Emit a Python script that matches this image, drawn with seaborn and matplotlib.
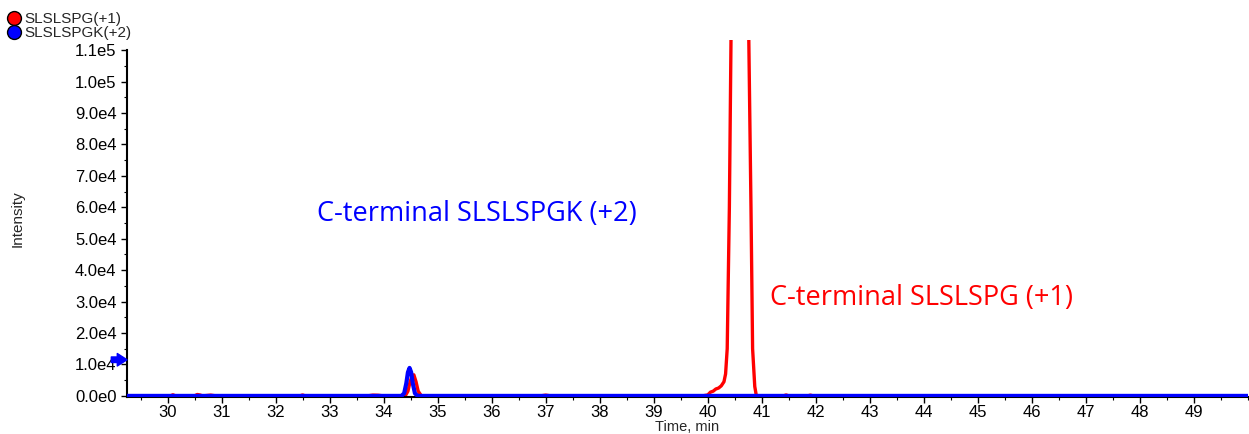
import numpy as np
import pandas as pd
import matplotlib
matplotlib.use("Agg")
import matplotlib.pyplot as plt
from matplotlib.lines import Line2D
from matplotlib.ticker import MultipleLocator, FixedLocator
import matplotlib.transforms as mtransforms
import seaborn as sns

# ---- data ----
red_time = [29.25, 30.05, 30.1, 30.15, 30.5, 30.55, 30.6, 30.65, 30.8, 30.9, 31.0,
            32.45, 32.5, 32.55, 33.7, 33.8, 33.9, 34.0, 34.4, 34.45, 34.49, 34.53, 34.56,
            34.6, 34.64, 34.7, 36.9, 37.0, 37.1, 39.9, 40.0, 40.05, 40.1, 40.15, 40.2,
            40.25, 40.3, 40.33, 40.36, 40.40, 40.43, 40.5, 40.6, 40.7, 40.76, 40.80,
            40.83, 40.87, 40.9, 41.4, 41.45, 41.5, 41.85, 41.9, 41.95, 50.0]
red_int = [0, 0, 350, 0, 0, 450, 300, 0, 250, 0, 0,
           0, 300, 0, 0, 250, 200, 0, 0, 1500, 4500, 6500, 6700,
           4500, 1500, 0, 0, 250, 0, 0, 300, 1200, 1500, 2200, 2500,
           3200, 4500, 7000, 15000, 60000, 113000, 250000, 300000, 200000, 113000, 60000,
           15000, 3000, 0, 0, 300, 0, 0, 250, 0, 0]

blue_time = [29.25, 34.33, 34.38, 34.42, 34.45, 34.48, 34.51, 34.54, 34.58, 34.63, 50.0]
blue_int = [0, 0, 800, 4000, 7500, 8900, 7500, 4000, 800, 0, 0]

series_names = ["SLSLSPG(+1)", "SLSLSPGK(+2)"]
series_colors = ["#ff0000", "#0000ff"]
x_ticks = list(range(30, 50))
y_ticks = [i * 1e4 for i in range(12)]
y_tick_labels = ["0.0e0"] + [f"{i}.0e4" for i in range(1, 10)] + ["1.0e5", "1.1e5"]
annot_blue = "C-terminal SLSLSPGK (+2)"
annot_red = "C-terminal SLSLSPG (+1)"

# ---- plot ----
sns.set_style("white")
plt.rcParams["font.family"] = ["Liberation Sans", "DejaVu Sans"]

fig = plt.figure(figsize=(12.49, 4.34), dpi=100)
ax = fig.add_axes([127 / 1249, 37 / 434, 1121 / 1249, 357 / 434])

df_red = pd.DataFrame({"time": red_time, "intensity": red_int})
df_blue = pd.DataFrame({"time": blue_time, "intensity": blue_int})
sns.lineplot(data=df_red, x="time", y="intensity", color=series_colors[0], lw=2.4,
             estimator=None, ax=ax, zorder=2)
sns.lineplot(data=df_blue, x="time", y="intensity", color=series_colors[1], lw=3.0,
             estimator=None, ax=ax, zorder=3)

ax.set_xlim(29.25, 50.0)
ax.set_ylim(-350, 1.132e5)

for s in ["top", "right"]:
    ax.spines[s].set_visible(False)
for s in ["left", "bottom"]:
    ax.spines[s].set_color("black")
    ax.spines[s].set_linewidth(1.5)
ax.spines["left"].set_bounds(-350, 1.1e5)

ax.xaxis.set_major_locator(FixedLocator(x_ticks))
ax.xaxis.set_minor_locator(MultipleLocator(0.5))
ax.yaxis.set_major_locator(FixedLocator(y_ticks))
ax.yaxis.set_minor_locator(FixedLocator([v + 5e3 for v in y_ticks[:-1]]))
ax.set_yticklabels(y_tick_labels)
ax.tick_params(axis="both", which="major", direction="out", length=4, width=1,
               color="black", labelsize=12, labelcolor="black", left=True, bottom=True)
ax.tick_params(axis="x", which="major", pad=2)
ax.tick_params(axis="both", which="minor", direction="out", length=2, width=0.8,
               color="black", left=True, bottom=True)

ax.set_xlabel("Time, min", fontsize=10.5, labelpad=0)
ax.set_ylabel("Intensity", fontsize=11, labelpad=36)

# annotations
ax.text(35.72, 5.79e4, annot_blue, color="blue", fontsize=19.5,
        family=["Open Sans", "DejaVu Sans"], ha="center", va="center")
ax.text(43.96, 3.12e4, annot_red, color="red", fontsize=19.5,
        family=["Open Sans", "DejaVu Sans"], ha="center", va="center")

# blue arrow marker on y-axis
trans = mtransforms.blended_transform_factory(ax.transAxes, ax.transData)
ax.annotate("", xy=(0.0, 1.15e4), xytext=(-0.014, 1.15e4), xycoords=trans, textcoords=trans,
            arrowprops=dict(arrowstyle="simple,head_width=0.9,head_length=0.7,tail_width=0.4",
                            color="blue", shrinkA=0, shrinkB=0), annotation_clip=False)

# legend
handles = [Line2D([], [], ls="none", marker="o", markersize=10, markerfacecolor=c,
                  markeredgecolor="black", markeredgewidth=1.0) for c in series_colors]
fig.legend(handles, series_names, loc="upper left", bbox_to_anchor=(-0.003, 0.993),
           frameon=False, fontsize=11, handletextpad=0.15, labelspacing=0.0,
           handlelength=1.1, borderaxespad=0.2)

fig.savefig("out.png", dpi=100)
